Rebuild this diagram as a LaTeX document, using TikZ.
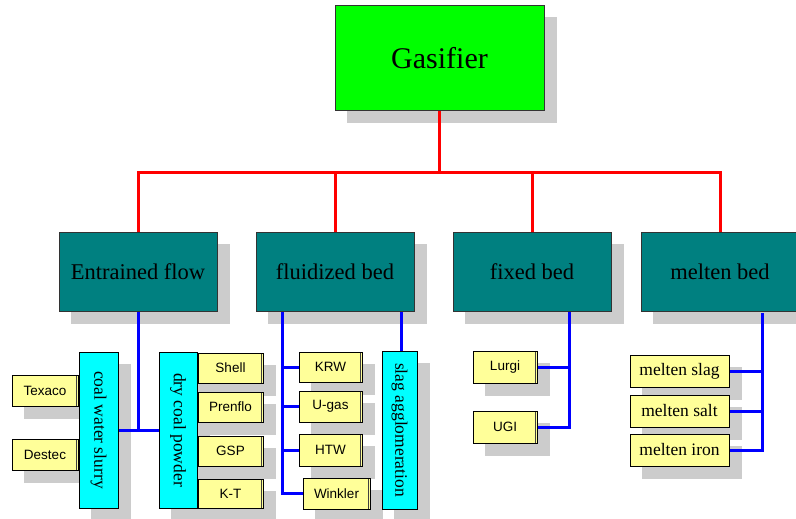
\documentclass[tikz,border=0pt]{standalone}
\usepackage{fontspec}
\setmainfont{Liberation Serif}
\setsansfont{Liberation Sans}
\usetikzlibrary{backgrounds}
\pgfdeclarelayer{lines}
\pgfsetlayers{background,lines,main}
\definecolor{gfill}{HTML}{00FF00}
\definecolor{tfill}{HTML}{008080}
\definecolor{cfill}{HTML}{00FFFF}
\definecolor{yfill}{HTML}{FFFF99}
\definecolor{shad}{HTML}{CCCCCC}
\definecolor{bord}{HTML}{333333}
\tikzset{
  box/.style={draw=bord, line width=1pt, inner sep=0pt, rectangle},
  topbox/.style={box, fill=gfill, minimum width=209pt, minimum height=105pt, font=\fontsize{30}{30}\selectfont},
  midbox/.style={box, fill=tfill, minimum width=158pt, minimum height=79pt, font=\fontsize{22.5}{22.5}\selectfont},
  vbox/.style={box, fill=cfill, draw=black, minimum width=156pt, rotate=-90, font=\fontsize{17.5}{17.5}\selectfont},
  ybox/.style={box, draw=black, fill=yfill, font=\sffamily\fontsize{13.5}{13.5}\selectfont,
    path picture={\draw[black!75, line width=0.8pt] ([shift={(2pt,-2pt)}]path picture bounding box.south west) -- ([shift={(-2pt,-2pt)}]path picture bounding box.south east) -- ([shift={(-2pt,2pt)}]path picture bounding box.north east);}},
  mbox/.style={box, draw=black, fill=yfill, minimum width=99pt, minimum height=32pt, font=\fontsize{17.5}{17.5}\selectfont},
  redline/.style={draw=red, line width=3pt},
  blueline/.style={draw=blue, line width=3pt},
}
\begin{document}
\begin{tikzpicture}[x=1pt,y=-1pt]
\useasboundingbox (0,0) rectangle (796,519);
% nodes
\node[topbox] (g) at (439.5,58.5) {Gasifier};
\node[midbox] (ef) at (138,271.5) {Entrained flow};
\node[midbox] (fb) at (335,271.5) {fluidized bed};
\node[midbox] (xb) at (532,271.5) {fixed bed};
\node[midbox] (mb) at (720,271.5) {melten bed};

\node[vbox, minimum height=39pt] (cws) at (98.5,430) {coal water slurry};
\node[vbox, minimum height=38pt] (dcp) at (178,430) {dry coal powder};
\node[vbox, minimum height=35pt, minimum width=158pt] (sa) at (399.5,430) {slag agglomeration};

\node[ybox, minimum width=66pt, minimum height=31pt] (tex) at (45,390.5) {Texaco};
\node[ybox, minimum width=66pt, minimum height=31pt] (des) at (45,454.5) {Destec};
\node[ybox, minimum width=65pt, minimum height=30pt] (she) at (230.5,368) {Shell};
\node[ybox, minimum width=65pt, minimum height=30pt] (pre) at (230.5,407) {Prenflo};
\node[ybox, minimum width=65pt, minimum height=30pt] (gsp) at (230.5,451) {GSP};
\node[ybox, minimum width=65pt, minimum height=29pt] (kt) at (230.5,493.5) {K-T};
\node[ybox, minimum width=63pt, minimum height=30pt] (krw) at (330.5,367) {KRW};
\node[ybox, minimum width=63pt, minimum height=31pt] (ug) at (330.5,406.5) {U-gas};
\node[ybox, minimum width=63pt, minimum height=32pt] (htw) at (330.5,450) {HTW};
\node[ybox, minimum width=67pt, minimum height=31pt] (win) at (336.5,493.5) {Winkler};
\node[ybox, minimum width=64pt, minimum height=32pt] (lur) at (505,367) {Lurgi};
\node[ybox, minimum width=64pt, minimum height=32pt] (ugi) at (505,427) {UGI};
\node[mbox] (ms) at (679.5,371) {melten slag};
\node[mbox] (mt) at (679.5,411) {melten salt};
\node[mbox] (mi) at (679.5,450) {melten iron};

% shadows
\begin{pgfonlayer}{background}
\foreach \n in {g,ef,fb,xb,mb,cws,dcp,sa,tex,des,she,pre,gsp,kt,krw,ug,htw,win,lur,ugi,ms,mt,mi}
  \fill[shad] ([shift={(12,12)}]\n.north west) rectangle ([shift={(12,12)}]\n.south east);
\end{pgfonlayer}

\begin{pgfonlayer}{lines}
% red connectors
\coordinate (rj) at (439,172);
\draw[redline] (g.center -| rj) -- (rj);
\draw[redline] (ef.center) |- (rj) -| (mb.center);
\draw[redline] (fb.center) -- (fb.center |- rj);
\draw[redline] (xb.center) -- (xb.center |- rj);

% blue connectors: entrained flow
\draw[blueline] (ef.center) -- (ef.center |- cws.center);
\draw[blueline] (cws.center) -- (dcp.center);
% fluidized bed
\coordinate (fv) at (282,300);
\draw[blueline] (fv) |- (win.center);
\draw[blueline] (fv |- krw.center) -- (krw.center);
\draw[blueline] (fv |- ug.center) -- (ug.center);
\draw[blueline] (fv |- htw.center) -- (htw.center);
\coordinate (sv) at (401,300);
\draw[blueline] (sv) -- (sv |- sa.center);
% fixed bed
\coordinate (xv) at (569,300);
\draw[blueline] (xv) |- (ugi.center);
\draw[blueline] (lur.center) -- (lur.center -| xv);
% melten bed
\coordinate (mv) at (762,313);
\draw[blueline] (mv) |- (mi.center);
\draw[blueline] (ms.center) -- (ms.center -| mv);
\draw[blueline] (mt.center) -- (mt.center -| mv);
\end{pgfonlayer}
\end{tikzpicture}
\end{document}
